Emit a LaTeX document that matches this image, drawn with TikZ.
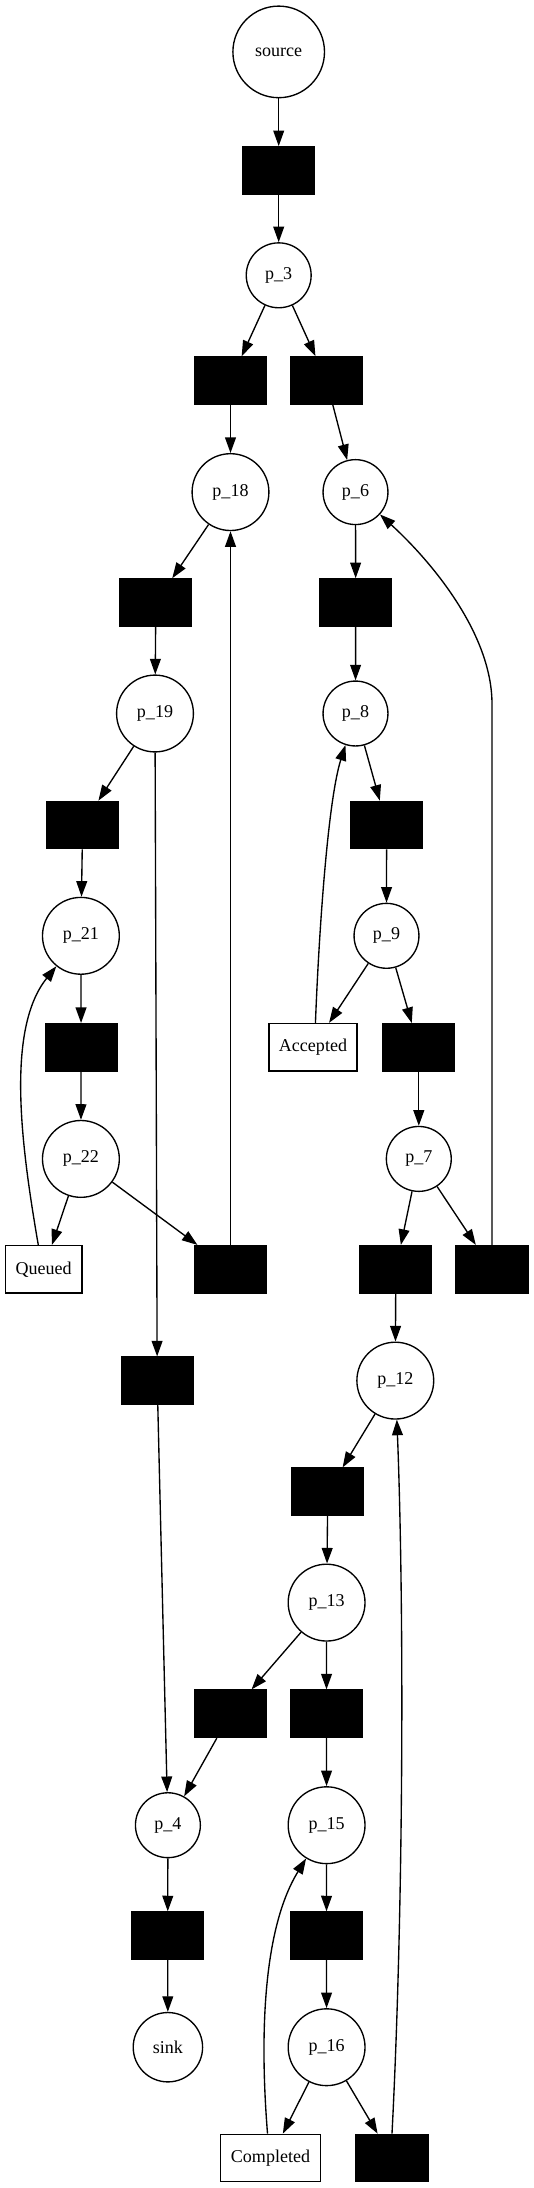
\documentclass[tikz,border=0pt]{standalone}
\usepackage{fontspec}
\setmainfont{Liberation Serif}
\usetikzlibrary{arrows.meta}
\begin{document}
\begin{tikzpicture}[x=0.738pt,y=-0.738pt,
  every node/.style={font=\fontsize{13.3}{16}\selectfont},
  place/.style={circle,draw=black,line width=1pt,inner sep=0pt,minimum size=56.7pt},
  smallplace/.style={place,minimum size=47.9pt},
  trans/.style={rectangle,fill=black,draw=black,line width=1pt,minimum width=53pt,minimum height=35pt,inner sep=0pt},
  labelbox/.style={rectangle,draw=black,line width=1pt,minimum height=35pt,inner sep=0pt},
  arc/.style={-{Triangle[length=11.5pt,width=8pt]},line width=1pt}]
\useasboundingbox (0,0) rectangle (533,2188);
% places
\node[place,minimum size=67.6pt] (source) at (278.7,51.9) {source};
\node[smallplace] (p3) at (278.7,275.3) {p\_3};
\node[place] (p18) at (230.5,492.1) {p\_18};
\node[smallplace] (p6) at (355.5,492.1) {p\_6};
\node[place] (p19) at (155,713.5) {p\_19};
\node[smallplace] (p8) at (355.5,713.5) {p\_8};
\node[place] (p21) at (80.9,935.8) {p\_21};
\node[smallplace] (p9) at (386.5,935.8) {p\_9};
\node[place] (p22) at (80.9,1158.9) {p\_22};
\node[smallplace] (p7) at (418.8,1158.9) {p\_7};
\node[place] (p12) at (395.3,1380.6) {p\_12};
\node[place] (p13) at (326.6,1602.6) {p\_13};
\node[smallplace] (p4) at (167.9,1825.2) {p\_4};
\node[place] (p15) at (326.6,1825.2) {p\_15};
\node[place,minimum size=51.2pt] (sink) at (167.9,2047.2) {sink};
\node[place] (p16) at (326.6,2047.2) {p\_16};
% transitions
\node[trans] (t1) at (278.7,170.5) {};
\node[trans] (t2) at (230.5,380.6) {};
\node[trans] (t3) at (326.5,380.6) {};
\node[trans] (t4) at (155.8,602.6) {};
\node[trans] (t5) at (355.7,602.6) {};
\node[trans] (t6) at (82.6,825) {};
\node[trans] (t7) at (386.6,825) {};
\node[trans] (t8) at (81.1,1047.4) {};
\node[labelbox,minimum width=65.2pt] (acc) at (313,1047.2) {Accepted};
\node[trans] (t9) at (418.8,1047.4) {};
\node[labelbox,minimum width=56.4pt] (queued) at (43.7,1269.3) {Queued};
\node[trans] (t10) at (230.5,1269.3) {};
\node[trans] (t11) at (395.8,1269.3) {};
\node[trans] (t12) at (492,1269.3) {};
\node[trans] (t13) at (157.2,1380.8) {};
\node[trans] (t14) at (327.8,1491.8) {};
\node[trans] (t15) at (230.5,1713.8) {};
\node[trans] (t16) at (326.5,1713.8) {};
\node[trans] (t17) at (167.7,1935.7) {};
\node[trans] (t18) at (326.5,1935.7) {};
\node[labelbox,minimum width=73.5pt] (completed) at (270.5,2158) {Completed};
\node[trans] (t19) at (392,2158) {};
\coordinate (bend12) at (492,704);
% arcs
\draw[arc] (source) -- (t1);
\draw[arc] (t1) -- (p3);
\draw[arc] (p3) -- (t2);
\draw[arc] (p3) -- (t3);
\draw[arc] (t2) -- (p18);
\draw[arc] (t3) -- (p6);
\draw[arc] (p18) -- (t4);
\draw[arc] (t4) -- (p19);
\draw[arc] (p6) -- (t5);
\draw[arc] (t5) -- (p8);
\draw[arc] (p19) -- (t6);
\draw[arc] (p19) -- (t13);
\draw[arc] (t6) -- (p21);
\draw[arc] (p8) -- (t7);
\draw[arc] (t7) -- (p9);
\draw[arc] (p9) -- (acc);
\draw[arc] (p9) -- (t9);
\draw[arc] ([xshift=1.8pt]acc.north) .. controls (319,930) and (328,800) .. (p8);
\draw[arc] (p21) -- (t8);
\draw[arc] (t8) -- (p22);
\draw[arc] (p22) -- (queued);
\draw[arc] (p22) -- (t10);
\draw[arc] ([xshift=-4pt]queued.north) .. controls (22,1150) and (5,1030) .. (p21);
\draw[arc] (t10) -- (p18);
\draw[arc] (t9) -- (p7);
\draw[arc] (p7) -- (t11);
\draw[arc] (p7) -- (t12);
\draw[arc] (t12.north) -- (bend12) .. controls (492,634) and (432,562) .. (p6);
\draw[arc] (t11) -- (p12);
\draw[arc] (t13) -- (p4);
\draw[arc] (p12) -- (t14);
\draw[arc] (t14) -- (p13);
\draw[arc] (p13) -- (t15);
\draw[arc] (p13) -- (t16);
\draw[arc] (t15) -- (p4);
\draw[arc] (t16) -- (p15);
\draw[arc] (p4) -- (t17);
\draw[arc] (t17) -- (sink);
\draw[arc] (p15) -- (t18);
\draw[arc] (t18) -- (p16);
\draw[arc] (p16) -- (completed);
\draw[arc] (p16) -- (t19);
\draw[arc] ([xshift=-2.2pt]completed.north) .. controls (260,2040) and (262,1930) .. (p15);
\draw[arc] (t19.north) .. controls (404,1900) and (404,1600) .. (p12);
\end{tikzpicture}
\end{document}
